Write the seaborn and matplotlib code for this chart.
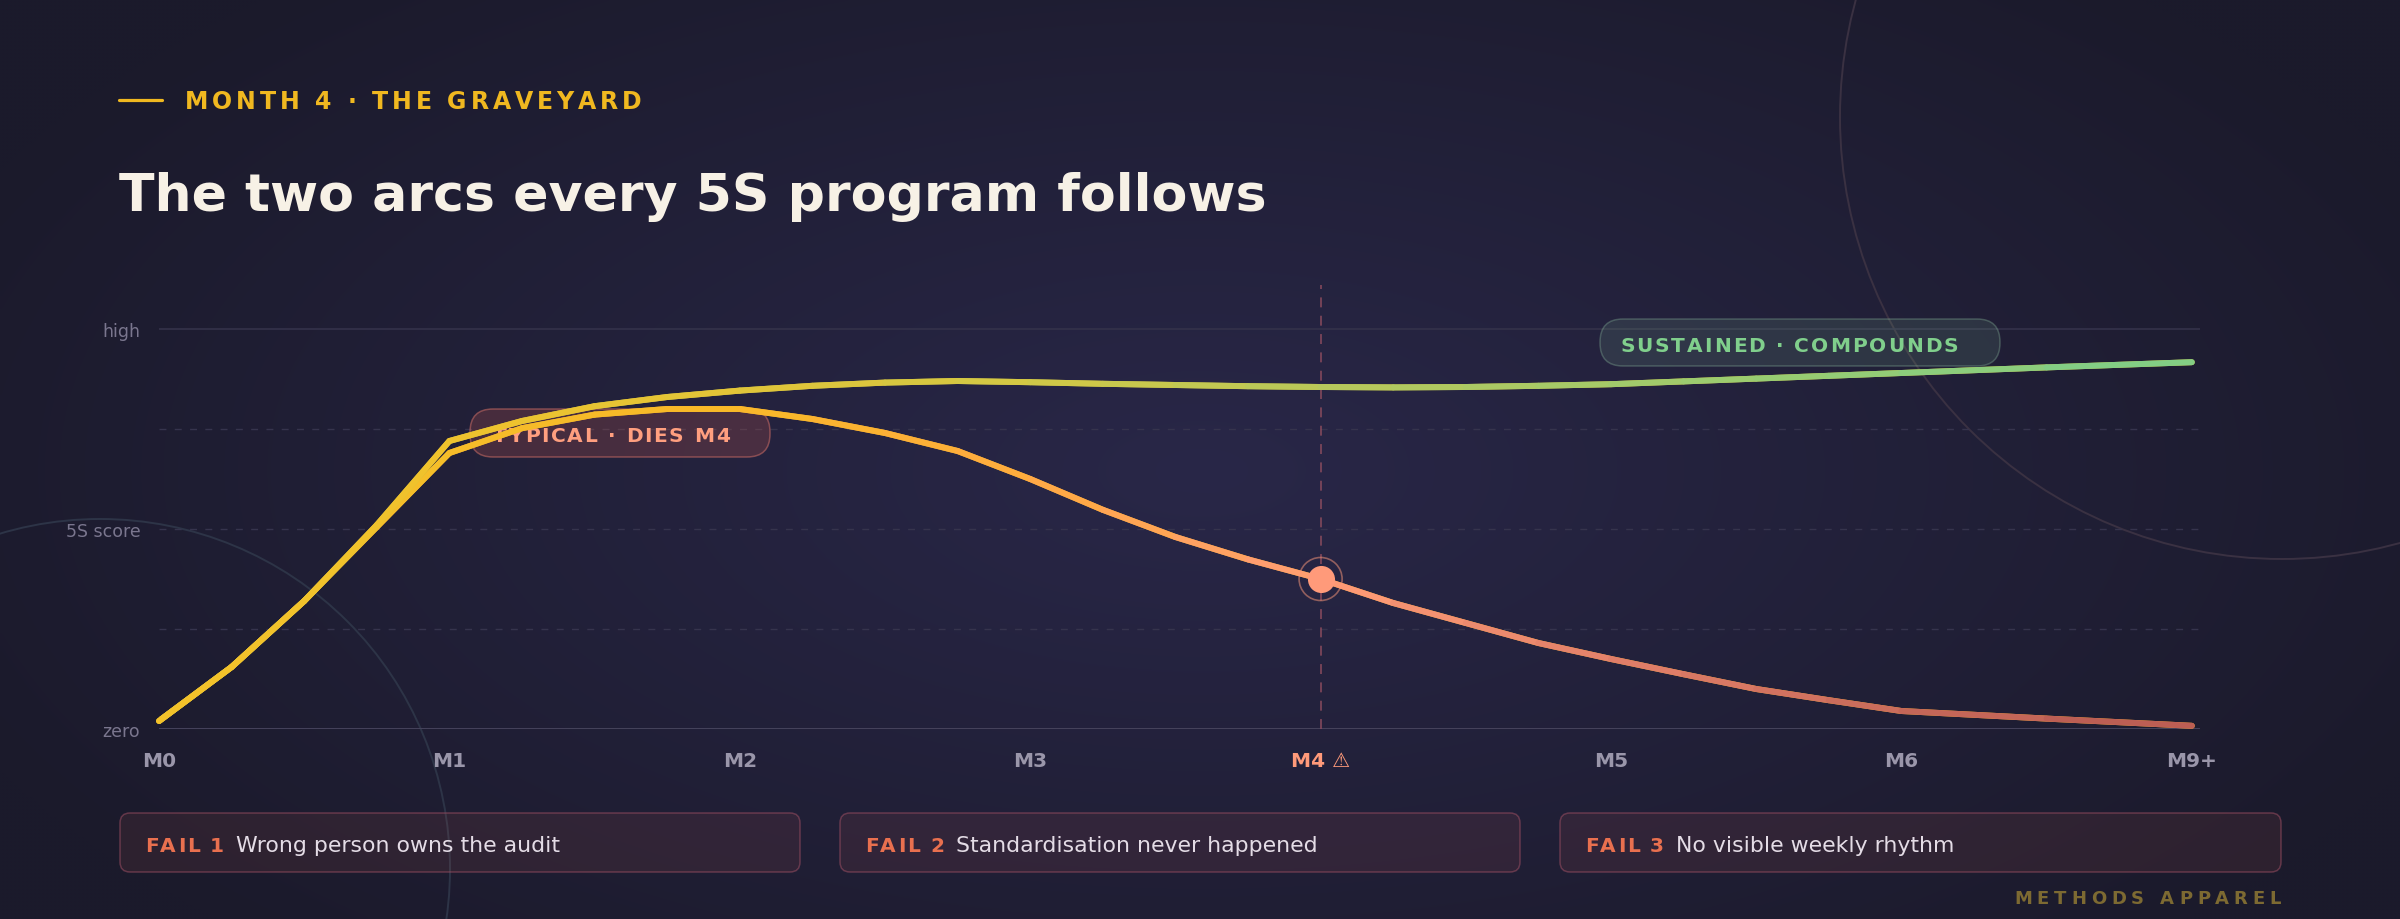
import matplotlib
matplotlib.use("Agg")
import matplotlib.pyplot as plt
import matplotlib.transforms as mtransforms
from matplotlib.collections import LineCollection
from matplotlib.colors import LinearSegmentedColormap, to_rgb
from matplotlib.patches import FancyBboxPatch, Circle
from matplotlib.lines import Line2D
from matplotlib.font_manager import FontProperties
import numpy as np
import seaborn as sns

W, H = 2400, 920

# ---- data ----
month_labels = ["M0", "M1", "M2", "M3", "M4 \u26a0", "M5", "M6", "M9+"]
month_pos = [0, 1, 2, 3, 4, 5, 6, 7]
score_ticks = [0, 50, 100]
score_labels = ["zero", "5S score", "high"]

months = [0, 0.25, 0.5, 0.75, 1, 1.25, 1.5, 1.75, 2, 2.25, 2.5, 2.75, 3, 3.25, 3.5, 3.75, 4,
          4.25, 4.5, 4.75, 5, 5.25, 5.5, 5.75, 6, 6.5, 7]
sustained = [2, 15.5, 32, 51, 72, 77, 80.7, 83, 84.6, 85.8, 86.6, 87, 86.7, 86.3, 86, 85.7, 85.5,
             85.4, 85.5, 85.8, 86.2, 86.9, 87.6, 88.3, 89, 90.4, 91.7]
typical = [2, 15.5, 32, 50.5, 69, 75.2, 78.6, 80, 80, 77.5, 74, 69.5, 62.5, 54.8, 48, 42.4, 37.5,
           31.5, 26.5, 21.5, 17.5, 13.7, 10, 7.2, 4.5, 2.6, 0.8]
death_month = 4

fails = ["Wrong person owns the audit", "Standardisation never happened", "No visible weekly rhythm"]

# ---- style ----
sns.set_theme(style="dark")
plt.rcParams["font.family"] = ["DejaVu Sans"]

PX = mtransforms.IdentityTransform()

fig = plt.figure(figsize=(W / 100, H / 100), dpi=100)
fig.patch.set_facecolor("#1c1a2e")

# background glow
bg = fig.add_axes([0, 0, 1, 1], zorder=-10)
yy, xx = np.mgrid[0:H:4, 0:W:4]
r = np.sqrt(((xx - 1200) / 1350.0) ** 2 + ((yy - 470) / 650.0) ** 2)
r = np.clip(r, 0, 1)[..., None]
c_in = np.array(to_rgb("#292748"))
c_out = np.array(to_rgb("#1b1a2b"))
bg.imshow(c_in * (1 - r) + c_out * r, extent=(0, W, H, 0), aspect="auto", interpolation="bilinear")
bg.axis("off")

# decorative rings
fig.add_artist(Circle((2282, H - 118), 442, transform=PX, fill=False, ec="#3a3142", lw=1.4, zorder=-5))
fig.add_artist(Circle((100, H - 870), 350, transform=PX, fill=False, ec="#2d3447", lw=1.4, zorder=-5))


def tracked(s, x, y, size, color, width=None, track=2.0, weight="bold", ha="left", zorder=3, target=None):
    """draw letter-spaced text, x/y in pixels from top-left, y = baseline"""
    target = target or fig
    rend = fig.canvas.get_renderer()
    prop = FontProperties(family="DejaVu Sans", size=size, weight=weight)
    ws = []
    for ch in s:
        if ch == " ":
            w = rend.get_text_width_height_descent("a a", prop, ismath=False)[0] - \
                rend.get_text_width_height_descent("aa", prop, ismath=False)[0]
        else:
            w = rend.get_text_width_height_descent(ch, prop, ismath=False)[0]
        ws.append(w)
    if width is not None:
        track = (width - sum(ws)) / (len(s) - 1)
    total = sum(ws) + track * (len(s) - 1)
    x0 = x - total if ha == "right" else x
    for ch, w in zip(s, ws):
        if ch != " ":
            target.text(x0, H - y, ch, fontproperties=prop, color=color, ha="left", va="baseline",
                        transform=PX, zorder=zorder)
        x0 += w + track


# header
fig.add_artist(Line2D([119, 162], [H - 101, H - 101], transform=PX, color="#f0b820", lw=2.3))
tracked("MONTH 4 \u00b7 THE GRAVEYARD", 185, 109, 17, "#f0b820", width=456)
fig.text(119, H - 211, "The two arcs every 5S program follows", transform=PX, fontsize=37.5,
         fontweight="bold", color="#f7f1e6", va="baseline")

# ---- chart ----
x_unit = 290.4
ax = fig.add_axes([159 / W, 190 / H, 2041 / W, 444 / H])
ax.set_xlim(0, 2041 / x_unit)
ax.set_ylim(0, 111)
ax.patch.set_alpha(0)
for sp in ax.spines.values():
    sp.set_visible(False)
ax.grid(False)

ax.axhline(100, color="#34324a", lw=1.2, zorder=1)
ax.axhline(0, color="#46435c", lw=1.4, zorder=1)
for v in [25, 50, 75]:
    ax.axhline(v, color="#36344d", lw=1.0, ls=(0, (5, 6)), zorder=1)
ax.axvline(death_month, color="#8a4b5e", lw=1.1, ls=(0, (6.5, 5.5)), zorder=1.2)

# label pills (under the lines)
ax.add_patch(FancyBboxPatch((470, H - 458), 300, 48, boxstyle="round,pad=0,rounding_size=23",
                            transform=PX, fc=(0.88, 0.38, 0.32, 0.2), ec=(0.75, 0.4, 0.38, 0.6),
                            lw=1.1, zorder=1.5, clip_on=False))
ax.add_patch(FancyBboxPatch((1600, H - 367), 400, 47, boxstyle="round,pad=0,rounding_size=23",
                            transform=PX, fc=(0.56, 0.84, 0.63, 0.12), ec=(0.56, 0.75, 0.63, 0.32),
                            lw=1.1, zorder=1.5, clip_on=False))
tracked("TYPICAL \u00b7 DIES M4", 493, 442, 14.5, "#ff9f7f", width=237, zorder=1.6, target=ax)
tracked("SUSTAINED \u00b7 COMPOUNDS", 1620, 352, 14.5, "#80cf8c", width=338, zorder=1.6, target=ax)

cmap_typ = LinearSegmentedColormap.from_list("typ", [
    (0, "#f3c22a"), (2 / 7, "#f8b828"), (3 / 7, "#ffab40"), (4 / 7, "#ff9c76"),
    (5 / 7, "#e2806a"), (6 / 7, "#c86a5a"), (1, "#b85a52")])
cmap_sus = LinearSegmentedColormap.from_list("sus", [
    (0, "#f3c22a"), (1 / 7, "#f0c22c"), (3 / 7, "#d2c845"), (4 / 7, "#b8c85a"),
    (6 / 7, "#90cc78"), (1, "#7fcf88")])


def gradient_line(x, y, cmap, lw, z):
    pts = np.column_stack([x, y]).reshape(-1, 1, 2)
    segs = np.concatenate([pts[:-1], pts[1:]], axis=1)
    mids = (np.asarray(x[:-1]) + np.asarray(x[1:])) / 2 / 7
    lc = LineCollection(segs, colors=cmap(mids), linewidths=lw, capstyle="round",
                        joinstyle="round", zorder=z)
    lc.set_clip_on(False)
    ax.add_collection(lc)


sns.lineplot(x=months, y=typical, ax=ax, color="#f5b030", lw=4.3, zorder=3)
gradient_line(months, typical, cmap_typ, 4.3, 3.1)
sns.lineplot(x=months, y=sustained, ax=ax, color="#d2c845", lw=4.3, zorder=3.5)
gradient_line(months, sustained, cmap_sus, 4.3, 3.6)

y_dead = typical[months.index(death_month)]
ax.scatter([death_month], [y_dead], s=960, fc="none", ec="#ff9a7a", lw=1.2, alpha=0.5, zorder=5)
ax.scatter([death_month], [y_dead], s=380, color="#ff9a7a", lw=0, zorder=6)

ax.set_xticks(month_pos)
ax.set_xticklabels(month_labels)
ax.set_yticks(score_ticks)
ax.set_yticklabels(score_labels)
ax.tick_params(axis="x", length=0, pad=15.5, labelsize=14.5, labelcolor="#9a96aa")
ax.tick_params(axis="y", length=0, pad=13.5, labelsize=12.5, labelcolor="#7a768e")
for t in ax.get_xticklabels():
    t.set_fontweight("bold")
ax.get_xticklabels()[month_pos.index(death_month)].set_color("#ff9a7a")
ax.set_xlabel("")
ax.set_ylabel("")

# ---- failure boxes ----
box_lefts = [120, 840, 1560]
box_widths = [680, 680, 721]
for i, (bx, bw, txt) in enumerate(zip(box_lefts, box_widths, fails)):
    fig.add_artist(FancyBboxPatch((bx, H - 873), bw, 59, boxstyle="round,pad=0,rounding_size=10",
                                  transform=PX, fc=(0.91, 0.42, 0.35, 0.09), ec=(0.6, 0.3, 0.38, 0.55),
                                  lw=1.1))
    tracked(f"FAIL {i + 1}", bx + 25, 852, 14.5, "#e9704f", width=79)
    fig.text(bx + 116, H - 852, txt, transform=PX, fontsize=15.8, color="#e4dce6", va="baseline")

tracked("METHODS APPAREL", 2281, 904, 13, "#7d6a32", width=267, ha="right")

fig.savefig("out.png", dpi=100, facecolor=fig.get_facecolor())
